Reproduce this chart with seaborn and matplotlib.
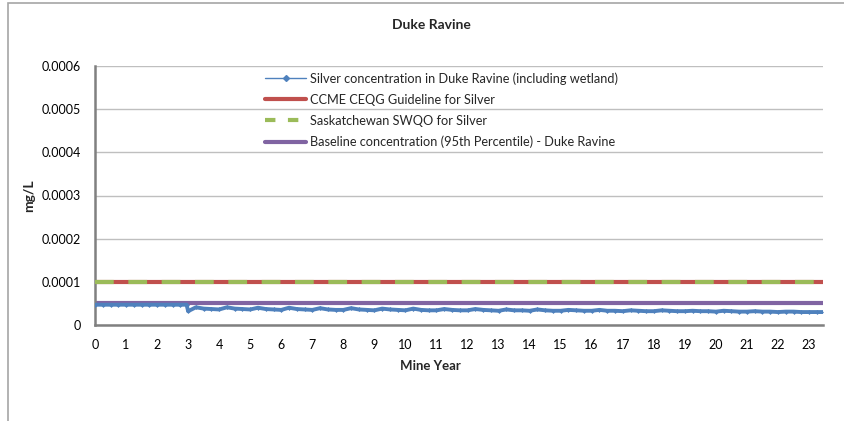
import numpy as np
import pandas as pd
import seaborn as sns
import matplotlib.pyplot as plt
from matplotlib.lines import Line2D
from matplotlib.patches import Rectangle

# Data (mg/L), quarterly points, plus the step just before year 3
years = list(np.arange(0, 3, 0.25)) + [2.95] + list(np.arange(3, 23.51, 0.25))
silver = [
    4.7e-5, 4.7e-5, 4.7e-5, 4.7e-5,
    4.7e-5, 4.7e-5, 4.7e-5, 4.7e-5,
    4.7e-5, 4.7e-5, 4.7e-5, 4.7e-5,
    4.7e-5,
    3.2e-5, 4.1e-5, 3.8e-5, 3.7e-5,
    3.6e-5, 4.1e-5, 3.8e-5, 3.7e-5,
    3.6e-5, 4.0e-5, 3.7e-5, 3.6e-5,
    3.5e-5, 4.0e-5, 3.7e-5, 3.6e-5,
    3.5e-5, 3.9e-5, 3.6e-5, 3.5e-5,
    3.5e-5, 3.9e-5, 3.6e-5, 3.5e-5,
    3.4e-5, 3.8e-5, 3.6e-5, 3.5e-5,
    3.4e-5, 3.8e-5, 3.5e-5, 3.4e-5,
    3.4e-5, 3.7e-5, 3.5e-5, 3.4e-5,
    3.4e-5, 3.7e-5, 3.5e-5, 3.4e-5,
    3.3e-5, 3.6e-5, 3.4e-5, 3.4e-5,
    3.3e-5, 3.6e-5, 3.4e-5, 3.3e-5,
    3.3e-5, 3.5e-5, 3.4e-5, 3.3e-5,
    3.3e-5, 3.5e-5, 3.3e-5, 3.3e-5,
    3.2e-5, 3.4e-5, 3.3e-5, 3.2e-5,
    3.2e-5, 3.4e-5, 3.3e-5, 3.2e-5,
    3.2e-5, 3.3e-5, 3.2e-5, 3.2e-5,
    3.1e-5, 3.3e-5, 3.2e-5, 3.1e-5,
    3.1e-5, 3.2e-5, 3.1e-5, 3.1e-5,
    3.0e-5, 3.1e-5, 3.1e-5, 3.0e-5,
    3.0e-5, 3.0e-5, 3.0e-5,
]
ccme_guideline = 0.0001
sk_swqo = 0.0001
baseline_95th = 0.00005

labels = [
    'Silver concentration in Duke Ravine (including wetland)',
    'CCME CEQG Guideline for Silver',
    'Saskatchewan SWQO for Silver',
    'Baseline concentration (95th Percentile) - Duke Ravine',
]
BLUE, RED, GREEN, PURPLE = '#4F81BD', '#C0504D', '#9BBB59', '#8064A2'

df = pd.DataFrame({'Mine Year': years, 'mg/L': silver})

sns.set_style("white")
plt.rcParams['font.family'] = ['Lato', 'DejaVu Sans']

fig = plt.figure(figsize=(8.45, 4.21), dpi=100)
ax = fig.add_axes([95 / 845, 1 - 325 / 421, 728 / 845, 259 / 421])

# outer chart frame (cut off at right/bottom)
fig.patches.append(Rectangle((8 / 845, -0.1), 1.2, 1 - 3 / 421 + 0.1,
                             transform=fig.transFigure, fill=False,
                             edgecolor='#A6A6A6', linewidth=1.2))

ax.axhline(ccme_guideline, color=RED, linewidth=3, zorder=2)
ax.axhline(sk_swqo, color=GREEN, linewidth=3, dashes=(4.5, 3.5), zorder=3)
ax.axhline(baseline_95th, color=PURPLE, linewidth=3, zorder=2)
sns.lineplot(data=df, x='Mine Year', y='mg/L', ax=ax, color=BLUE,
             linewidth=2.8, marker='D', markersize=2.5,
             markeredgewidth=0, zorder=4)

ax.set_xlim(0, 23.45)
ax.set_ylim(0, 0.0006)
ax.set_xticks(range(0, 24))
ax.set_yticks([0, 0.0001, 0.0002, 0.0003, 0.0004, 0.0005, 0.0006])
ax.set_yticklabels(['0', '0.0001', '0.0002', '0.0003', '0.0004', '0.0005', '0.0006'])
ax.tick_params(axis='both', labelsize=9, length=0, pad=10, colors='black')
ax.grid(axis='y', color='#BFBFBF', linewidth=1)
ax.grid(axis='x', visible=False)
for s in ['top', 'right']:
    ax.spines[s].set_visible(False)
for s in ['left', 'bottom']:
    ax.spines[s].set_color('#808080')
    ax.spines[s].set_linewidth(1.8)
ax.set_xlabel('')
ax.set_ylabel('')

fig.text(431 / 845, 1 - 25 / 421, 'Duke Ravine', ha='center', va='center',
         fontsize=10, fontweight='bold')
fig.text(430 / 845, 1 - 366 / 421, 'Mine Year', ha='center', va='center',
         fontsize=9.5, fontweight='bold')
fig.text(29 / 845, 1 - 196 / 421, 'mg/L', ha='center', va='center',
         fontsize=10, fontweight='bold', rotation=90)

handles = [
    Line2D([], [], color=BLUE, linewidth=1, marker='D', markersize=3),
    Line2D([], [], color=RED, linewidth=3),
    Line2D([], [], color=GREEN, linewidth=3, dashes=(2.5, 3)),
    Line2D([], [], color=PURPLE, linewidth=3),
]
ax.legend(handles, labels, loc='upper left', bbox_to_anchor=(0.218, 1.02),
          frameon=False, fontsize=9.2, handlelength=3.2, handletextpad=0.3,
          labelspacing=0.7)

fig.savefig('out.png', dpi=100)
